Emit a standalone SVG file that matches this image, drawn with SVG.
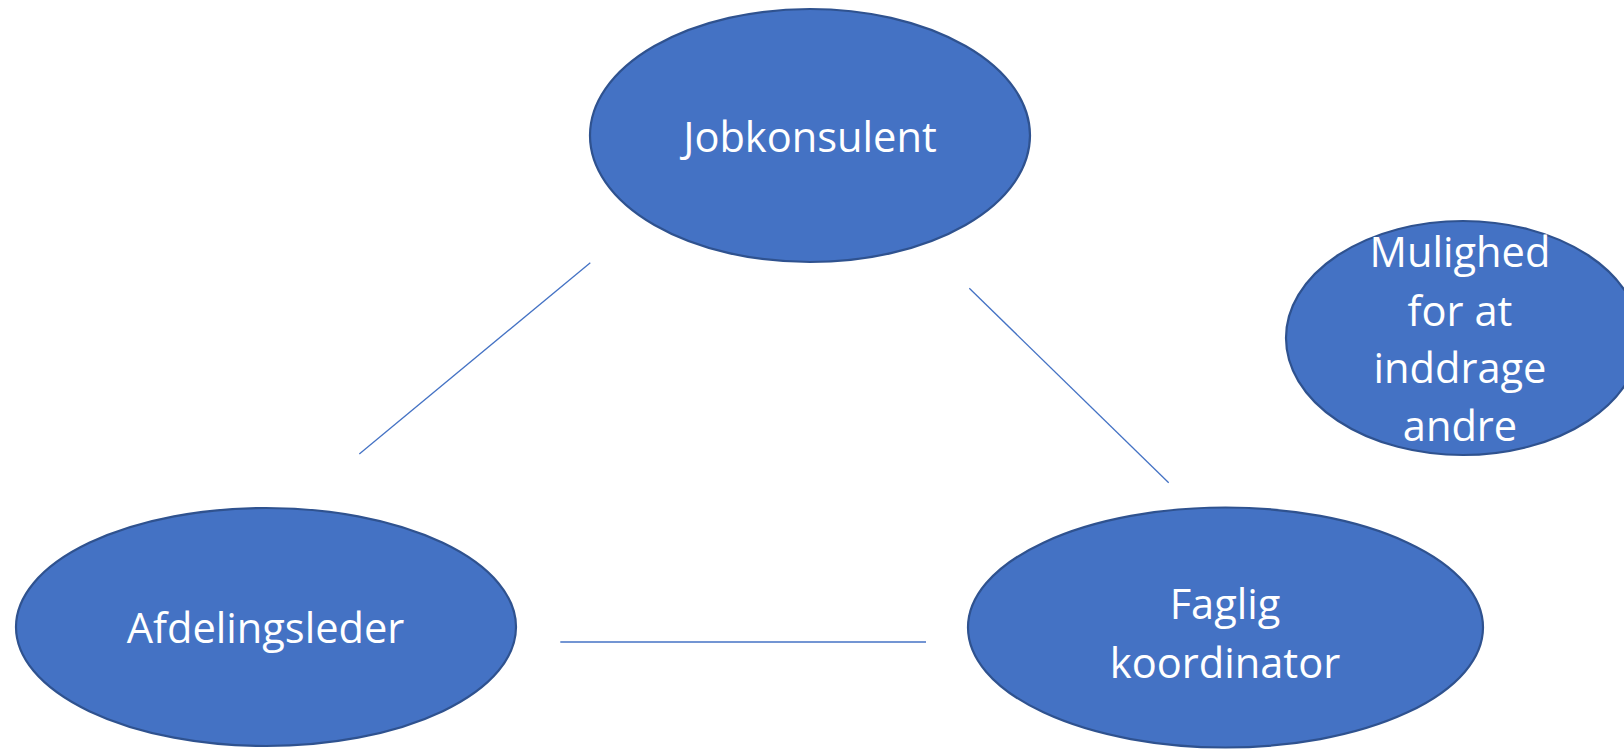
<svg xmlns="http://www.w3.org/2000/svg" width="1624" height="749" viewBox="0 0 1624 749">
<style>
.node{fill:#4472C4;stroke:#2F528F;stroke-width:2.2}
.lbl{fill:#FFFFFF;font-family:"Open Sans","Liberation Sans",sans-serif;font-size:41.6px;text-anchor:middle}
.edge{stroke:#4472C4;stroke-width:1.3;fill:none}
</style>
<rect width="1624" height="749" fill="#FFFFFF"/>
<g id="connectors">
<line class="edge" x1="590.3" y1="262.7" x2="359.3" y2="454"/>
<line class="edge" x1="969.3" y1="288.3" x2="1168.7" y2="482.7"/>
<line class="edge" x1="560.3" y1="642" x2="926" y2="642"/>
</g>
<g id="jobkonsulent">
<ellipse class="node" cx="810" cy="135.5" rx="220" ry="126.5"/>
<text class="lbl" x="810" y="152">Jobkonsulent</text>
</g>
<g id="mulighed">
<ellipse class="node" cx="1463" cy="338" rx="177" ry="117"/>
<text class="lbl" x="1460" y="267">Mulighed</text>
<text class="lbl" x="1460" y="326">for at</text>
<text class="lbl" x="1460" y="383">inddrage</text>
<text class="lbl" x="1460" y="441">andre</text>
</g>
<g id="afdelingsleder">
<ellipse class="node" cx="266" cy="627" rx="250" ry="119"/>
<text class="lbl" x="265.5" y="643">Afdelingsleder</text>
</g>
<g id="faglig">
<ellipse class="node" cx="1225.5" cy="627.5" rx="257.5" ry="120"/>
<text class="lbl" x="1225" y="619">Faglig</text>
<text class="lbl" x="1225" y="678">koordinator</text>
</g>
</svg>
